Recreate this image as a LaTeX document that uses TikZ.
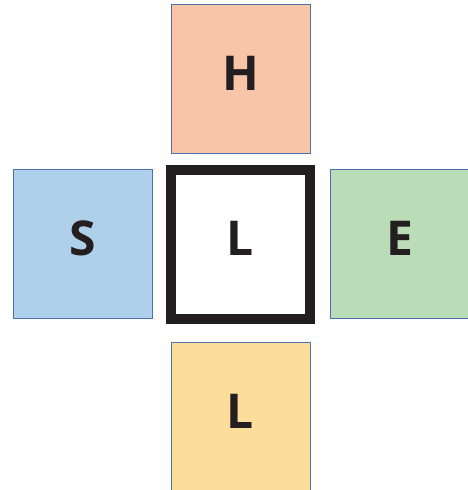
\documentclass[tikz,border=0pt]{standalone}
\usepackage{fontspec}
\setmainfont{Open Sans}
\usetikzlibrary{positioning}

\definecolor{edgeblue}{HTML}{4E71AC}
\definecolor{letterdark}{HTML}{231F20}
\definecolor{heatfill}{HTML}{F8C5A9}
\definecolor{sidefill}{HTML}{AFD0EA}
\definecolor{endfill}{HTML}{BADCB6}
\definecolor{lowfill}{HTML}{FCDE9A}

\begin{document}
\begin{tikzpicture}[
        tile/.style={
            draw=edgeblue,
            line width=1pt,
            minimum width=139pt,
            minimum height=149pt,
            inner sep=0pt,
            outer sep=0pt,
            text=letterdark,
            text height=35pt,
            text depth=12pt,
            font=\fontsize{48}{48}\selectfont\bfseries
        },
        middletile/.style={
            tile,
            draw=letterdark,
            fill=white,
            line width=10pt
        }
    ]

        \useasboundingbox (0pt,0pt) rectangle (468pt,490pt);

        % ---------------------------------------------------------------------
        % Middle tile
        % ---------------------------------------------------------------------

        \node[
            middletile
        ] (middle) at (240.5pt,245.5pt) {L};

        % ---------------------------------------------------------------------
        % Surrounding tiles
        % ---------------------------------------------------------------------

        \node[
            tile,
            fill=heatfill,
            above=16pt of middle
        ] (top) {H};

        \node[
            tile,
            fill=sidefill,
            left=19pt of middle
        ] (left) {S};

        \node[
            tile,
            fill=endfill,
            right=20pt of middle
        ] (right) {E};

        \node[
            tile,
            fill=lowfill,
            below=24pt of middle
        ] (bottom) {L};

    \end{tikzpicture}
\end{document}
